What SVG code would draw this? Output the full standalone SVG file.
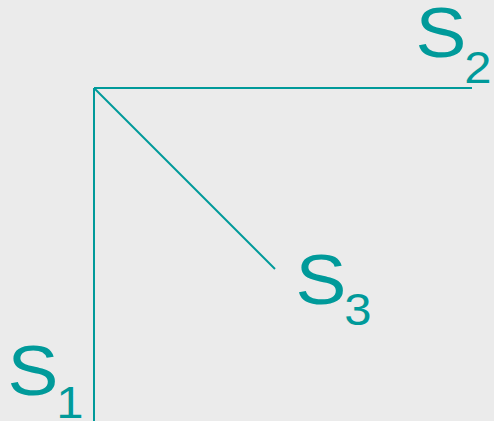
<svg xmlns="http://www.w3.org/2000/svg" width="494" height="421" viewBox="0 0 494 421">
<style>
.ln{stroke:#009a9a;stroke-width:2;fill:none}
.lb{font-family:"Liberation Sans",Arial,sans-serif;fill:#009a9a;font-size:70px}
.sb{font-size:45px}
</style>
<rect width="494" height="421" fill="#ebebeb"/>
<g id="connectors">
<line class="ln" x1="94" y1="88" x2="94" y2="421"/>
<line class="ln" x1="94" y1="88" x2="472" y2="88"/>
<line class="ln" x1="94" y1="88" x2="275" y2="269"/>
</g>
<g id="S1"><text class="lb" transform="translate(7.5,395) scale(1.09,1)">S<tspan class="sb" dx="-2" dy="23">1</tspan></text></g>
<g id="S2"><text class="lb" transform="translate(415.5,57) scale(1.09,1)">S<tspan class="sb" dx="-2" dy="26">2</tspan></text></g>
<g id="S3"><text class="lb" transform="translate(295.5,304) scale(1.09,1)">S<tspan class="sb" dx="-2" dy="21">3</tspan></text></g>
</svg>
